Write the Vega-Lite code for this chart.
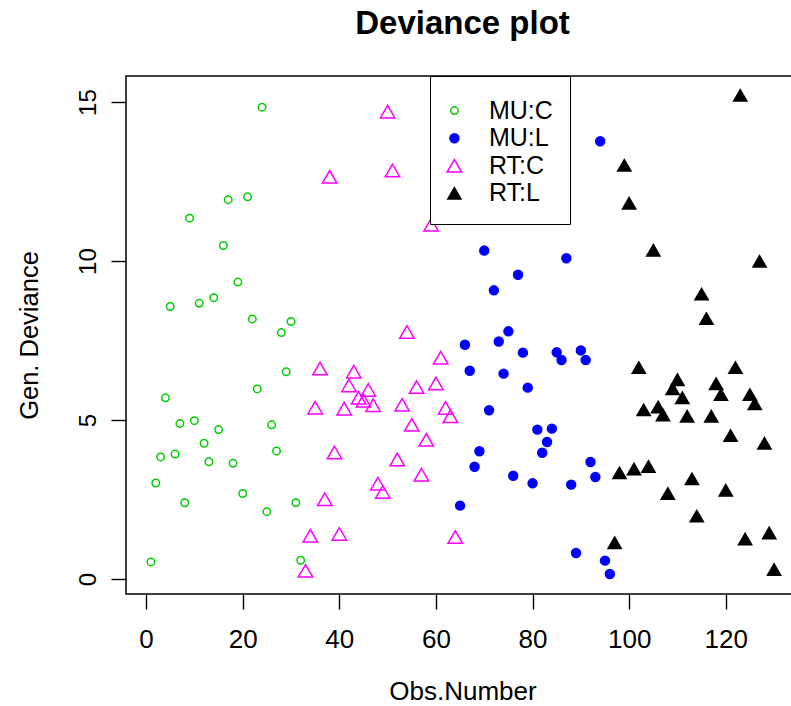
{
  "$schema": "https://vega.github.io/schema/vega-lite/v6.json",
  "width": 673,
  "height": 518,
  "autosize": {"type": "none"},
  "padding": {"left": 126, "top": 76, "right": -8, "bottom": 112},
  "background": "white",
  "config": {
    "view": {"stroke": "black", "strokeWidth": 1.5},
    "font": "Liberation Sans"
  },
  "title": {
    "text": "Deviance plot",
    "fontSize": 33,
    "fontWeight": "bold",
    "font": "Liberation Sans",
    "color": "black",
    "anchor": "middle",
    "frame": "group",
    "baseline": "alphabetic",
    "offset": 9
  },
  "data": {
    "values": [
      {"obs": 1, "dev": 0.54, "grp": "MU:C"},
      {"obs": 2, "dev": 3.02, "grp": "MU:C"},
      {"obs": 3, "dev": 3.84, "grp": "MU:C"},
      {"obs": 4, "dev": 5.70, "grp": "MU:C"},
      {"obs": 5, "dev": 8.57, "grp": "MU:C"},
      {"obs": 6, "dev": 3.93, "grp": "MU:C"},
      {"obs": 7, "dev": 4.89, "grp": "MU:C"},
      {"obs": 8, "dev": 2.40, "grp": "MU:C"},
      {"obs": 9, "dev": 11.35, "grp": "MU:C"},
      {"obs": 10, "dev": 4.98, "grp": "MU:C"},
      {"obs": 11, "dev": 8.67, "grp": "MU:C"},
      {"obs": 12, "dev": 4.27, "grp": "MU:C"},
      {"obs": 13, "dev": 3.69, "grp": "MU:C"},
      {"obs": 14, "dev": 8.85, "grp": "MU:C"},
      {"obs": 15, "dev": 4.70, "grp": "MU:C"},
      {"obs": 16, "dev": 10.49, "grp": "MU:C"},
      {"obs": 17, "dev": 11.93, "grp": "MU:C"},
      {"obs": 18, "dev": 3.64, "grp": "MU:C"},
      {"obs": 19, "dev": 9.34, "grp": "MU:C"},
      {"obs": 20, "dev": 2.69, "grp": "MU:C"},
      {"obs": 21, "dev": 12.02, "grp": "MU:C"},
      {"obs": 22, "dev": 8.18, "grp": "MU:C"},
      {"obs": 23, "dev": 5.98, "grp": "MU:C"},
      {"obs": 24, "dev": 14.84, "grp": "MU:C"},
      {"obs": 25, "dev": 2.12, "grp": "MU:C"},
      {"obs": 26, "dev": 4.85, "grp": "MU:C"},
      {"obs": 27, "dev": 4.03, "grp": "MU:C"},
      {"obs": 28, "dev": 7.75, "grp": "MU:C"},
      {"obs": 29, "dev": 6.52, "grp": "MU:C"},
      {"obs": 30, "dev": 8.10, "grp": "MU:C"},
      {"obs": 31, "dev": 2.40, "grp": "MU:C"},
      {"obs": 32, "dev": 0.59, "grp": "MU:C"},
      {"obs": 33, "dev": 0.26, "grp": "RT:C"},
      {"obs": 34, "dev": 1.36, "grp": "RT:C"},
      {"obs": 35, "dev": 5.39, "grp": "RT:C"},
      {"obs": 36, "dev": 6.62, "grp": "RT:C"},
      {"obs": 37, "dev": 2.51, "grp": "RT:C"},
      {"obs": 38, "dev": 12.65, "grp": "RT:C"},
      {"obs": 39, "dev": 3.98, "grp": "RT:C"},
      {"obs": 40, "dev": 1.42, "grp": "RT:C"},
      {"obs": 41, "dev": 5.36, "grp": "RT:C"},
      {"obs": 42, "dev": 6.09, "grp": "RT:C"},
      {"obs": 43, "dev": 6.52, "grp": "RT:C"},
      {"obs": 44, "dev": 5.70, "grp": "RT:C"},
      {"obs": 45, "dev": 5.61, "grp": "RT:C"},
      {"obs": 46, "dev": 5.95, "grp": "RT:C"},
      {"obs": 47, "dev": 5.47, "grp": "RT:C"},
      {"obs": 48, "dev": 3.00, "grp": "RT:C"},
      {"obs": 49, "dev": 2.74, "grp": "RT:C"},
      {"obs": 50, "dev": 14.70, "grp": "RT:C"},
      {"obs": 51, "dev": 12.85, "grp": "RT:C"},
      {"obs": 52, "dev": 3.76, "grp": "RT:C"},
      {"obs": 53, "dev": 5.48, "grp": "RT:C"},
      {"obs": 54, "dev": 7.77, "grp": "RT:C"},
      {"obs": 55, "dev": 4.85, "grp": "RT:C"},
      {"obs": 56, "dev": 6.04, "grp": "RT:C"},
      {"obs": 57, "dev": 3.28, "grp": "RT:C"},
      {"obs": 58, "dev": 4.38, "grp": "RT:C"},
      {"obs": 59, "dev": 11.14, "grp": "RT:C"},
      {"obs": 60, "dev": 6.15, "grp": "RT:C"},
      {"obs": 61, "dev": 6.96, "grp": "RT:C"},
      {"obs": 62, "dev": 5.38, "grp": "RT:C"},
      {"obs": 63, "dev": 5.12, "grp": "RT:C"},
      {"obs": 64, "dev": 1.32, "grp": "RT:C"},
      {"obs": 65, "dev": 2.31, "grp": "MU:L"},
      {"obs": 66, "dev": 7.37, "grp": "MU:L"},
      {"obs": 67, "dev": 6.55, "grp": "MU:L"},
      {"obs": 68, "dev": 3.53, "grp": "MU:L"},
      {"obs": 69, "dev": 4.02, "grp": "MU:L"},
      {"obs": 70, "dev": 10.33, "grp": "MU:L"},
      {"obs": 71, "dev": 5.31, "grp": "MU:L"},
      {"obs": 72, "dev": 9.08, "grp": "MU:L"},
      {"obs": 73, "dev": 7.47, "grp": "MU:L"},
      {"obs": 74, "dev": 6.46, "grp": "MU:L"},
      {"obs": 75, "dev": 7.79, "grp": "MU:L"},
      {"obs": 76, "dev": 3.25, "grp": "MU:L"},
      {"obs": 77, "dev": 9.57, "grp": "MU:L"},
      {"obs": 78, "dev": 7.12, "grp": "MU:L"},
      {"obs": 79, "dev": 6.02, "grp": "MU:L"},
      {"obs": 80, "dev": 3.01, "grp": "MU:L"},
      {"obs": 81, "dev": 4.70, "grp": "MU:L"},
      {"obs": 82, "dev": 3.97, "grp": "MU:L"},
      {"obs": 83, "dev": 4.31, "grp": "MU:L"},
      {"obs": 84, "dev": 4.73, "grp": "MU:L"},
      {"obs": 85, "dev": 7.13, "grp": "MU:L"},
      {"obs": 86, "dev": 6.89, "grp": "MU:L"},
      {"obs": 87, "dev": 10.09, "grp": "MU:L"},
      {"obs": 88, "dev": 2.97, "grp": "MU:L"},
      {"obs": 89, "dev": 0.82, "grp": "MU:L"},
      {"obs": 90, "dev": 7.19, "grp": "MU:L"},
      {"obs": 91, "dev": 6.89, "grp": "MU:L"},
      {"obs": 92, "dev": 3.68, "grp": "MU:L"},
      {"obs": 93, "dev": 3.21, "grp": "MU:L"},
      {"obs": 94, "dev": 13.77, "grp": "MU:L"},
      {"obs": 95, "dev": 0.58, "grp": "MU:L"},
      {"obs": 96, "dev": 0.16, "grp": "MU:L"},
      {"obs": 97, "dev": 1.14, "grp": "RT:L"},
      {"obs": 98, "dev": 3.34, "grp": "RT:L"},
      {"obs": 99, "dev": 13.01, "grp": "RT:L"},
      {"obs": 100, "dev": 11.82, "grp": "RT:L"},
      {"obs": 101, "dev": 3.46, "grp": "RT:L"},
      {"obs": 102, "dev": 6.65, "grp": "RT:L"},
      {"obs": 103, "dev": 5.32, "grp": "RT:L"},
      {"obs": 104, "dev": 3.54, "grp": "RT:L"},
      {"obs": 105, "dev": 10.34, "grp": "RT:L"},
      {"obs": 106, "dev": 5.41, "grp": "RT:L"},
      {"obs": 107, "dev": 5.16, "grp": "RT:L"},
      {"obs": 108, "dev": 2.69, "grp": "RT:L"},
      {"obs": 109, "dev": 5.98, "grp": "RT:L"},
      {"obs": 110, "dev": 6.27, "grp": "RT:L"},
      {"obs": 111, "dev": 5.70, "grp": "RT:L"},
      {"obs": 112, "dev": 5.12, "grp": "RT:L"},
      {"obs": 113, "dev": 3.15, "grp": "RT:L"},
      {"obs": 114, "dev": 1.98, "grp": "RT:L"},
      {"obs": 115, "dev": 8.96, "grp": "RT:L"},
      {"obs": 116, "dev": 8.19, "grp": "RT:L"},
      {"obs": 117, "dev": 5.12, "grp": "RT:L"},
      {"obs": 118, "dev": 6.14, "grp": "RT:L"},
      {"obs": 119, "dev": 5.80, "grp": "RT:L"},
      {"obs": 120, "dev": 2.79, "grp": "RT:L"},
      {"obs": 121, "dev": 4.51, "grp": "RT:L"},
      {"obs": 122, "dev": 6.65, "grp": "RT:L"},
      {"obs": 123, "dev": 15.21, "grp": "RT:L"},
      {"obs": 124, "dev": 1.26, "grp": "RT:L"},
      {"obs": 125, "dev": 5.80, "grp": "RT:L"},
      {"obs": 126, "dev": 5.51, "grp": "RT:L"},
      {"obs": 127, "dev": 9.99, "grp": "RT:L"},
      {"obs": 128, "dev": 4.27, "grp": "RT:L"},
      {"obs": 129, "dev": 1.45, "grp": "RT:L"},
      {"obs": 130, "dev": 0.30, "grp": "RT:L"}
    ]
  },
  "mark": {"type": "point", "strokeWidth": 1.5, "opacity": 1},
  "encoding": {
    "x": {
      "field": "obs",
      "type": "quantitative",
      "scale": {"domain": [-4.16, 135.16], "nice": false, "zero": false},
      "axis": {
        "values": [0, 20, 40, 60, 80, 100, 120],
        "grid": false,
        "domain": false,
        "ticks": true,
        "tickSize": 15,
        "tickWidth": 1.4,
        "tickColor": "black",
        "labelFont": "Liberation Sans",
        "labelFontSize": 26,
        "labelColor": "black",
        "labelBaseline": "alphabetic",
        "labelPadding": 38,
        "labelFlush": false,
        "labelOverlap": false,
        "title": "Obs.Number",
        "titleFont": "Liberation Sans",
        "titleFontSize": 26,
        "titleFontWeight": "normal",
        "titleColor": "black",
        "titleBaseline": "alphabetic",
        "titleY": 105
      }
    },
    "y": {
      "field": "dev",
      "type": "quantitative",
      "scale": {"domain": [-0.47, 15.82], "nice": false, "zero": false},
      "axis": {
        "values": [0, 5, 10, 15],
        "grid": false,
        "domain": false,
        "ticks": true,
        "tickSize": 15,
        "tickWidth": 1.4,
        "tickColor": "black",
        "labelFont": "Liberation Sans",
        "labelFontSize": 24,
        "labelColor": "black",
        "labelAngle": -90,
        "labelAlign": "center",
        "labelBaseline": "alphabetic",
        "labelPadding": 15.7,
        "labelFlush": false,
        "labelOverlap": false,
        "title": "Gen. Deviance",
        "titleFont": "Liberation Sans",
        "titleFontSize": 25.5,
        "titleFontWeight": "normal",
        "titleColor": "black",
        "titleAngle": -90,
        "titleAlign": "center",
        "titleBaseline": "alphabetic",
        "titleX": -89,
        "titleY": 259
      }
    },
    "stroke": {
      "field": "grp",
      "type": "nominal",
      "scale": {"domain": ["MU:C", "MU:L", "RT:C", "RT:L"], "range": ["#00CD00", "#0000FF", "#FF00FF", "#000000"]},
      "legend": {"orient": "none", "legendX": 304, "legendY": 0, "title": " ", "titleFontSize": 1, "titlePadding": 4.2, "strokeColor": "black", "fillColor": "white", "padding": 16.9, "cornerRadius": 0, "labelFont": "Liberation Sans", "labelFontSize": 25, "labelColor": "black", "labelOffset": 22, "rowPadding": 1.6, "symbolStrokeWidth": 1.5, "symbolOffset": -5}
    },
    "fill": {
      "field": "grp",
      "type": "nominal",
      "scale": {"domain": ["MU:C", "MU:L", "RT:C", "RT:L"], "range": ["transparent", "#0000FF", "transparent", "#000000"]},
      "legend": {"orient": "none", "legendX": 304, "legendY": 0, "title": " ", "titleFontSize": 1, "titlePadding": 4.2, "strokeColor": "black", "fillColor": "white", "padding": 16.9, "cornerRadius": 0, "labelFont": "Liberation Sans", "labelFontSize": 25, "labelColor": "black", "labelOffset": 22, "rowPadding": 1.6, "symbolStrokeWidth": 1.5, "symbolOffset": -5}
    },
    "shape": {
      "field": "grp",
      "type": "nominal",
      "scale": {"domain": ["MU:C", "MU:L", "RT:C", "RT:L"], "range": ["circle", "circle", "triangle-up", "triangle-up"]},
      "legend": {"orient": "none", "legendX": 304, "legendY": 0, "title": " ", "titleFontSize": 1, "titlePadding": 4.2, "strokeColor": "black", "fillColor": "white", "padding": 16.9, "cornerRadius": 0, "labelFont": "Liberation Sans", "labelFontSize": 25, "labelColor": "black", "labelOffset": 22, "rowPadding": 1.6, "symbolStrokeWidth": 1.5, "symbolOffset": -5}
    },
    "size": {
      "field": "grp",
      "type": "nominal",
      "scale": {"type": "ordinal", "domain": ["MU:C", "MU:L", "RT:C", "RT:L"], "range": [56, 80, 210, 174]},
      "legend": {"orient": "none", "legendX": 304, "legendY": 0, "title": " ", "titleFontSize": 1, "titlePadding": 4.2, "strokeColor": "black", "fillColor": "white", "padding": 16.9, "cornerRadius": 0, "labelFont": "Liberation Sans", "labelFontSize": 25, "labelColor": "black", "labelOffset": 22, "rowPadding": 1.6, "symbolStrokeWidth": 1.5, "symbolOffset": -5}
    }
  }
}
